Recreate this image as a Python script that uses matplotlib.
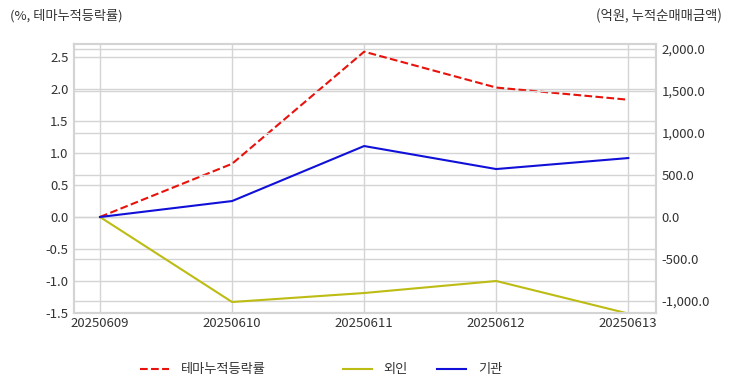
import matplotlib.pyplot as plt
from matplotlib.ticker import FuncFormatter, MultipleLocator

plt.rcParams['font.family'] = ['Noto Sans CJK KR', 'DejaVu Sans']

dates = ["20250609", "20250610", "20250611", "20250612", "20250613"]
theme = [0.0, 0.83, 2.58, 2.02, 1.83]          # 테마누적등락률 (%)
foreign = [0.0, -1012, -905, -762, -1150]      # 외인 (억원)
inst = [0.0, 190, 845, 571, 702]               # 기관 (억원)

fig = plt.figure(figsize=(7.32, 3.92), dpi=100)
ax = fig.add_axes([74 / 732, 1 - 313 / 392, 582 / 732, 269 / 392])
ax2 = ax.twinx()

x = range(len(dates))
l1, = ax.plot(x, theme, color="#e8120c", ls="--", lw=1.5, label="테마누적등락률")
l2, = ax2.plot(x, foreign, color="#bcbc14", lw=1.5, label="외인")
l3, = ax2.plot(x, inst, color="#1010d8", lw=1.5, label="기관")

ax.set_xlim(-0.197, 4.21)
ax.set_ylim(-1.5, 2.7)
ax2.set_ylim(-1143, 2060)
ax.yaxis.set_major_locator(MultipleLocator(0.5))
ax2.yaxis.set_major_locator(MultipleLocator(500))
ax.set_xticks(list(x))
ax.set_xticklabels(dates)
ax.yaxis.set_major_formatter(FuncFormatter(lambda v, p: f"{v:.1f}"))
ax2.yaxis.set_major_formatter(FuncFormatter(lambda v, p: f"{v:,.1f}"))

grid_c = "#d4d4d4"
ax.grid(True, color=grid_c, lw=1)
ax2.grid(True, axis="y", color=grid_c, lw=1)
ax.set_axisbelow(True)
ax2.set_axisbelow(True)
for a in (ax, ax2):
    for s in a.spines.values():
        s.set_color(grid_c)
        s.set_linewidth(1.5)
    a.tick_params(length=0, labelsize=9.5, colors="#333333", pad=4)
ax.tick_params(axis="x", pad=3)

fig.text(10 / 732, 1 - 16 / 392, "(%, 테마누적등락률)", fontsize=9.5, color="#333333", va="center")
fig.text(722 / 732, 1 - 16 / 392, "(억원, 누적순매매금액)", fontsize=9.6, color="#333333",
         va="center", ha="right")

# legend entries placed one by one, as in the reference
for h, xpos in [(l1, 128), (l2, 331), (l3, 425)]:
    fig.legend(handles=[h], loc="center left", bbox_to_anchor=(xpos / 732, 1 - 370 / 392),
               frameon=False, fontsize=9.5, handlelength=2.2, handletextpad=0.9,
               labelcolor="#333333")

fig.savefig("out.png", dpi=100)
